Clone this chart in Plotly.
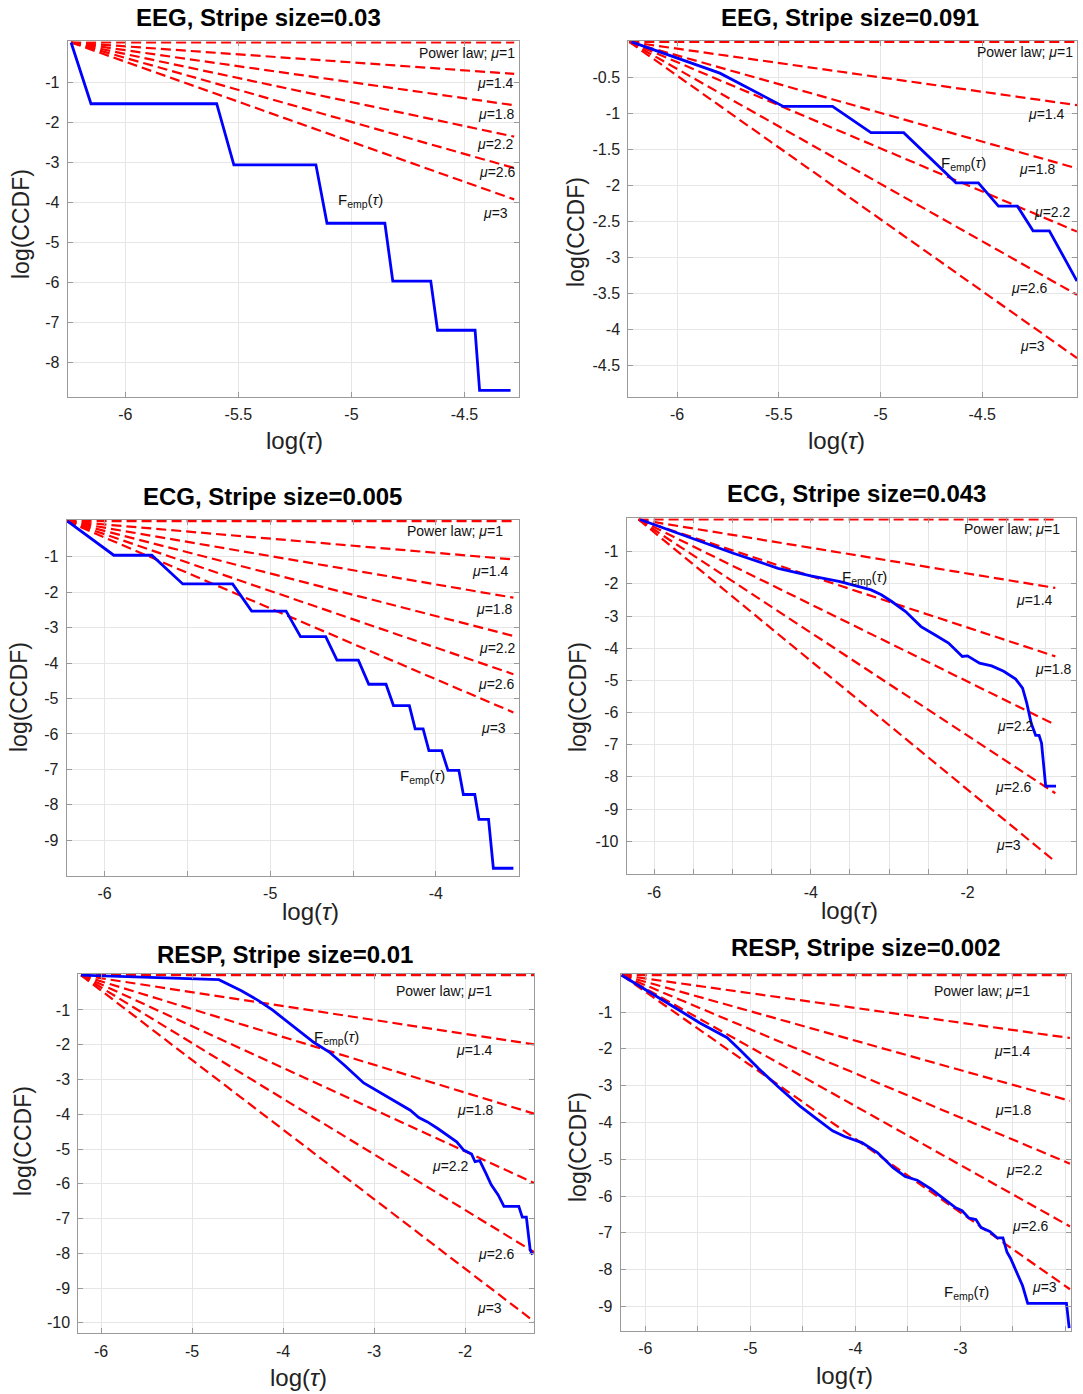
import plotly.graph_objects as go

W, H = 1083, 1394

# power-law guide exponents and their labels
mu_values = [1, 1.4, 1.8, 2.2, 2.6, 3]
mu_labels = ['Power law; <i>μ</i>=1', '<i>μ</i>=1.4', '<i>μ</i>=1.8',
             '<i>μ</i>=2.2', '<i>μ</i>=2.6', '<i>μ</i>=3']

titles = ['EEG, Stripe size=0.03', 'EEG, Stripe size=0.091',
          'ECG, Stripe size=0.005', 'ECG, Stripe size=0.043',
          'RESP, Stripe size=0.01', 'RESP, Stripe size=0.002']

# empirical CCDF curves, log(tau) vs log(CCDF)
eeg1_x = [-6.24, -6.152, -5.596, -5.52, -5.157, -5.108, -4.852, -4.817,
          -4.649, -4.619, -4.453, -4.433, -4.296]
eeg1_y = [0, -1.53, -1.53, -3.056, -3.056, -4.516, -4.516, -5.96, -5.96,
          -7.19, -7.19, -8.69, -8.69]
eeg1_tau = [-6.24, -4.28]

eeg2_x = [-6.225, -5.79, -5.478, -5.236, -5.047, -4.886, -4.629, -4.519,
          -4.42, -4.327, -4.25, -4.17, -4.034]
eeg2_y = [0, -0.435, -0.898, -0.898, -1.264, -1.264, -1.963, -1.963,
          -2.287, -2.287, -2.63, -2.63, -3.33]
eeg2_tau = [-6.235, -4.034]

ecg1_x = [-6.224, -5.944, -5.715, -5.528, -5.227, -5.112, -4.904, -4.817,
          -4.665, -4.597, -4.468, -4.405, -4.301, -4.256, -4.16, -4.125,
          -4.077, -4.042, -3.965, -3.927, -3.861, -3.834, -3.765, -3.74,
          -3.682, -3.653, -3.532]
ecg1_y = [0, -0.96, -0.96, -1.77, -1.77, -2.536, -2.536, -3.257, -3.257,
          -3.92, -3.92, -4.6, -4.6, -5.2, -5.2, -5.86, -5.86, -6.47, -6.47,
          -7.03, -7.03, -7.71, -7.71, -8.41, -8.41, -9.79, -9.79]
ecg1_tau = [-6.229, -3.532]

ecg2_x = [-6.18, -5.516, -4.989, -4.418, -4.0, -3.626, -3.231, -3.1, -2.967,
          -2.79, -2.593, -2.418, -2.242, -2.066, -2.0, -1.846, -1.692,
          -1.538, -1.385, -1.297, -1.244, -1.187, -1.13, -1.086, -1.055,
          -1.002, -0.87]
ecg2_y = [0, -0.586, -1.05, -1.517, -1.755, -1.93, -2.19, -2.34, -2.55,
          -2.86, -3.33, -3.585, -3.84, -4.257, -4.24, -4.465, -4.55, -4.72,
          -4.96, -5.24, -5.7, -6.33, -6.71, -6.71, -6.95, -8.29, -8.29]
ecg2_tau = [-6.198, -0.879]

resp1_x = [-6.22, -4.705, -4.458, -4.27, -4.117, -3.966, -3.814, -3.663,
           -3.492, -3.322, -3.114, -3.019, -2.848, -2.697, -2.602, -2.508,
           -2.413, -2.3, -2.186, -2.092, -2.015, -1.928, -1.89, -1.838,
           -1.77, -1.712, -1.636, -1.572, -1.409, -1.371, -1.326, -1.284,
           -1.258]
resp1_y = [0, -0.13, -0.446, -0.73, -1.0, -1.306, -1.64, -1.93, -2.21,
           -2.595, -3.1, -3.245, -3.5, -3.74, -3.884, -4.095, -4.22, -4.41,
           -4.63, -4.79, -5.03, -5.145, -5.365, -5.336, -5.7, -6.03, -6.32,
           -6.65, -6.65, -6.96, -6.96, -7.9, -8.04]
resp1_tau = [-6.22, -1.24]

resp2_x = [-6.224, -5.944, -5.68, -5.484, -5.22, -5.105, -4.924, -4.727,
           -4.53, -4.365, -4.217, -4.102, -3.938, -3.79, -3.641, -3.526,
           -3.411, -3.28, -3.148, -3.05, -2.984, -2.918, -2.852, -2.803,
           -2.72, -2.648, -2.595, -2.556, -2.523, -2.457, -2.408, -2.359,
           -1.99, -1.964]
resp2_y = [0, -0.475, -0.946, -1.29, -1.697, -2.01, -2.53, -3.05, -3.55,
           -3.91, -4.23, -4.385, -4.55, -4.82, -5.23, -5.47, -5.57, -5.81,
           -6.09, -6.31, -6.4, -6.6, -6.64, -6.86, -6.96, -7.14, -7.14,
           -7.53, -7.69, -8.12, -8.44, -8.92, -8.92, -9.59]
resp2_tau = [-6.224, -1.957]

curves = [(eeg1_x, eeg1_y, eeg1_tau), (eeg2_x, eeg2_y, eeg2_tau),
          (ecg1_x, ecg1_y, ecg1_tau), (ecg2_x, ecg2_y, ecg2_tau),
          (resp1_x, resp1_y, resp1_tau), (resp2_x, resp2_y, resp2_tau)]

# ---- layout of each panel (pixel boxes of the composite picture) ----
boxes = [(67.7, 518.7, 41.3, 396.7), (628.3, 1077, 40.7, 396.7),
         (66.6, 518.7, 520, 875.7), (626.7, 1076, 518.3, 874.3),
         (78.3, 534, 974, 1333.3), (620.7, 1071, 974, 1330.7)]
xranges = [[-6.255, -4.26], [-6.24, -4.034], [-6.229, -3.50],
           [-6.35, -0.615], [-6.25, -1.242], [-6.234, -1.947]]
ybottoms = [-8.85, -4.94, -10.0, -11.03, -10.3, -9.66]


def half_ticks(lo, hi, labelled):
    vals, text = [], []
    v = lo
    while v <= hi + 1e-9:
        vals.append(v)
        text.append(('%g' % v) if (labelled is None or v in labelled) else ' ')
        v += 0.5
    return vals, text


xticks = [half_ticks(-6, -4.5, None), half_ticks(-6, -4.5, None),
          half_ticks(-6, -4, [-6, -5, -4]), half_ticks(-6, -1, [-6, -4, -2]),
          ([-6, -5, -4, -3, -2], ['-6', '-5', '-4', '-3', '-2']),
          half_ticks(-6, -2, [-6, -5, -4, -3])]
yticks = [list(range(-8, 0)), [-4.5, -4, -3.5, -3, -2.5, -2, -1.5, -1, -0.5],
          list(range(-9, 0)), list(range(-10, 0)), list(range(-10, 0)),
          list(range(-9, 0))]

# annotation spots: (x right edge, y) for the mu labels and (x left, y) for F_emp
mu_pos = [
    [(-4.267, -0.25), (-4.274, -1.0), (-4.267, -1.79), (-4.274, -2.53), (-4.262, -3.24), (-4.30, -4.25)],
    [(-4.044, -0.134), (-4.081, -1.01), (-4.129, -1.77), (-4.056, -2.37), (-4.166, -3.43), (-4.18, -4.23)],
    [(-3.584, -0.29), (-3.549, -1.41), (-3.522, -2.47), (-3.507, -3.57), (-3.511, -4.58), (-3.563, -5.83)],
    [(-0.791, -0.307), (-0.879, -2.5), (-0.646, -4.64), (-1.121, -6.41), (-1.156, -8.32), (-1.297, -10.13)],
    [(-1.686, -0.446), (-1.674, -2.165), (-1.655, -3.885), (-1.939, -5.48), (-1.428, -8.01), (-1.572, -9.57)],
    [(-2.319, -0.43), (-2.309, -2.06), (-2.299, -3.67), (-2.194, -5.3), (-2.135, -6.81), (-2.063, -8.47)],
]
femp_pos = [(-5.066, -3.95), (-4.714, -1.7), (-4.229, -7.2),
            (-3.626, -1.8), (-3.682, -1.78), (-3.174, -8.62)]
title_pos = [(258, 17), (850, 17), (272, 497), (856, 493), (285, 954), (866, 947)]
xtitle_pos = [(294, 440), (836, 440), (310, 911), (849, 910), (298, 1377), (844, 1375)]
ytitle_pos = [(21, 224), (576, 232), (19, 697), (578, 697), (23, 1141), (578, 1147)]

FONT = 'Liberation Sans, Arial, Helvetica, sans-serif'
GRID = '#e6e6e6'
EDGE = '#9a9a9a'

fig = go.Figure()
annotations = []

for i, (cx, cy, tau) in enumerate(curves):
    n = '' if i == 0 else str(i + 1)
    xa, ya = 'x' + n, 'y' + n
    # power-law guides
    for mu in mu_values:
        fig.add_trace(go.Scatter(
            x=tau, y=[0, -(mu - 1) * (tau[1] - tau[0])], mode='lines',
            line=dict(color='#ff0000', width=2.2, dash='10px,5px'),
            xaxis=xa, yaxis=ya, showlegend=False, hoverinfo='skip'))
    fig.add_trace(go.Scatter(
        x=cx, y=cy, mode='lines', line=dict(color='#0000ff', width=2.8),
        xaxis=xa, yaxis=ya, showlegend=False))

    x0, x1, y0, y1 = boxes[i]
    ybot = ybottoms[i]
    pad = -ybot * 1.2 / (y1 - y0)
    common = dict(showgrid=True, gridcolor=GRID, gridwidth=1, zeroline=False,
                  showline=True, linecolor=EDGE, linewidth=1, mirror='ticks',
                  ticks='inside', ticklen=5, tickcolor=EDGE,
                  tickfont=dict(family=FONT, size=16, color='#222222'))
    fig.layout['xaxis' + n] = dict(
        domain=[x0 / W, x1 / W], range=xranges[i], anchor=ya,
        tickvals=xticks[i][0], ticktext=xticks[i][1], ticklabelstandoff=3,
        **common)
    fig.layout['yaxis' + n] = dict(
        domain=[1 - y1 / H, 1 - y0 / H], range=[ybot, pad], anchor=xa,
        tickvals=yticks[i], ticktext=['%g' % v for v in yticks[i]],
        ticklabelstandoff=4, **common)

    for (lx, ly), txt in zip(mu_pos[i], mu_labels):
        annotations.append(dict(x=lx, y=ly, xref=xa, yref=ya, text=txt,
                                showarrow=False, xanchor='right', yanchor='middle',
                                font=dict(family=FONT, size=14, color='#111111')))
    annotations.append(dict(x=femp_pos[i][0], y=femp_pos[i][1], xref=xa, yref=ya,
                            text='F<sub>emp</sub>(<i>τ</i>)', showarrow=False,
                            xanchor='left', yanchor='middle',
                            font=dict(family=FONT, size=15, color='#111111')))
    tx, ty = title_pos[i]
    annotations.append(dict(x=tx / W, y=1 - ty / H, xref='paper', yref='paper',
                            text='<b>' + titles[i] + '</b>', showarrow=False,
                            xanchor='center', yanchor='middle',
                            font=dict(family=FONT, size=24, color='#000000')))
    tx, ty = xtitle_pos[i]
    annotations.append(dict(x=tx / W, y=1 - ty / H, xref='paper', yref='paper',
                            text='log(<i>τ</i>)', showarrow=False,
                            xanchor='center', yanchor='middle',
                            font=dict(family=FONT, size=24, color='#222222')))
    tx, ty = ytitle_pos[i]
    annotations.append(dict(x=tx / W, y=1 - ty / H, xref='paper', yref='paper',
                            text='log(CCDF)', showarrow=False, textangle=-90,
                            xanchor='center', yanchor='middle',
                            font=dict(family=FONT, size=23, color='#222222')))

fig.update_layout(width=W, height=H, margin=dict(l=0, r=0, t=0, b=0),
                  paper_bgcolor='white', plot_bgcolor='white',
                  annotations=annotations, showlegend=False)

# the page body has a default 8px margin; drop it so the figure sits at 0,0
fig.write_html('out.html', config={'displayModeBar': False},
               post_script="document.body.style.margin='0';"
                           "document.body.style.overflow='hidden';")
